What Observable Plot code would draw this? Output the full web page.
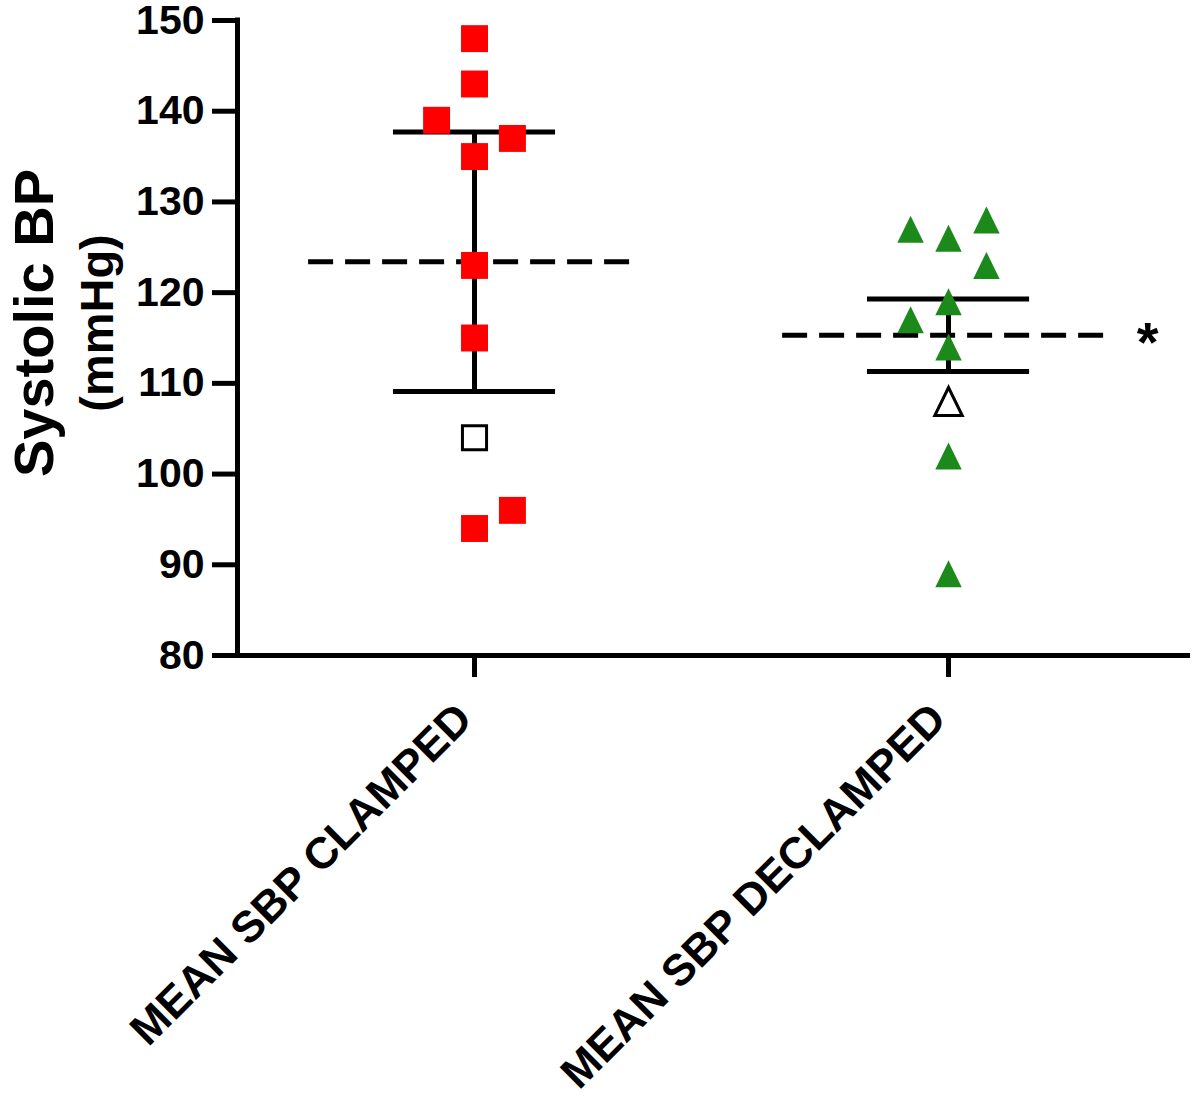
<!DOCTYPE html>
<html>
<head>
<meta charset="utf-8">
<script src="https://cdn.jsdelivr.net/npm/d3@7"></script>
<script src="https://cdn.jsdelivr.net/npm/@observablehq/plot@0.6"></script>
<style>
  body { margin: 0; background: #fff; }
</style>
</head>
<body>
<div id="chart"></div>
<script>
// ---- data ----
const categories = ["MEAN SBP CLAMPED", "MEAN SBP DECLAMPED"];
const clampedValues = [148, 143, 139, 137, 135, 123, 115, 96, 94];
const clampedColumns = [0, 0, -1, 1, 0, 0, 0, 1, 0];
const clampedOpenValues = [104];
const declampedValues = [127, 126, 128, 123, 119, 117, 114, 102, 89];
const declampedColumns = [-1, 0, 1, 1, 0, -1, 0, 0, 0];
const declampedOpenValues = [108];
const groupMeans = [123.4, 115.3];
const groupUpper = [137.7, 119.3];
const groupLower = [109.1, 111.3];
const significance = ["", "*"];
const yTicks = [80, 90, 100, 110, 120, 130, 140, 150];
const yTitle = ["Systolic BP", "(mmHg)"];

// ---- tables built from the arrays ----
const colStep = 0.08;
const filledRed = clampedValues.map((v, i) => ({g: 1, col: clampedColumns[i], v}));
const filledGreen = declampedValues.map((v, i) => ({g: 2, col: declampedColumns[i], v}));
const openRed = clampedOpenValues.map(v => ({g: 1, col: 0, v}));
const openGreen = declampedOpenValues.map(v => ({g: 2, col: 0, v}));
const summary = groupMeans.map((m, i) => ({g: i + 1, mean: m, hi: groupUpper[i], lo: groupLower[i], sig: significance[i]}));
const px = d => d.g + d.col * colStep;

const triangle = {
  draw(ctx, size) {
    const r = Math.sqrt(size / Math.PI);
    ctx.moveTo(0, -r);
    ctx.lineTo(r * 0.98, r);
    ctx.lineTo(-r * 0.98, r);
    ctx.closePath();
  }
};

const RED = "#ff0000";
const GREEN = "#1b8a1b";

const chart = Plot.plot({
  width: 1200,
  height: 1099,
  marginLeft: 237,
  marginRight: 10,
  marginTop: 20,
  marginBottom: 444,
  style: {fontFamily: "'Liberation Sans', Arial, sans-serif", fontWeight: "bold", color: "black", background: "white", overflow: "visible"},
  x: {type: "linear", domain: [0.5, 2.5105]},
  y: {domain: [80, 150]},
  marks: [
    // axes
    Plot.ruleY([80], {stroke: "black", strokeWidth: 5}),
    Plot.ruleX([0.5], {y1: 80, y2: 150, stroke: "black", strokeWidth: 5, strokeLinecap: "square"}),
    Plot.axisY({ticks: yTicks, tickSize: 25, tickPadding: 8, strokeWidth: 5, fontSize: 41, label: null, tickFormat: d => String(d)}),
    Plot.axisX({ticks: [1, 2], tickSize: 22, strokeWidth: 5, label: null, tickFormat: () => ""}),
    Plot.text(categories, {x: (d, i) => i + 1, y: 80, text: d => d, rotate: -45, textAnchor: "end", lineAnchor: "middle", dx: -10, dy: 56, fontSize: 44}),
    Plot.text([yTitle[0]], {frameAnchor: "left", text: d => d, rotate: -90, textAnchor: "middle", dx: -202, dy: -15, fontSize: 56}),
    Plot.text([yTitle[1]], {frameAnchor: "left", text: d => d, rotate: -90, textAnchor: "middle", dx: -140, dy: -15, fontSize: 47}),
    // mean (dashed) and error bars
    Plot.ruleY(summary, {y: "mean", x1: d => d.g - 0.35, x2: d => d.g + 0.35, stroke: "black", strokeWidth: 5, strokeDasharray: "25 12"}),
    Plot.ruleX(summary, {x: "g", y1: "lo", y2: "hi", stroke: "black", strokeWidth: 5}),
    Plot.ruleY(summary, {y: "hi", x1: d => d.g - 0.171, x2: d => d.g + 0.171, stroke: "black", strokeWidth: 5}),
    Plot.ruleY(summary, {y: "lo", x1: d => d.g - 0.171, x2: d => d.g + 0.171, stroke: "black", strokeWidth: 5}),
    Plot.text(summary, {x: "g", y: "mean", text: "sig", dx: 199, dy: 8, fontSize: 56, lineAnchor: "middle"}),
    // points
    Plot.dot(filledRed, {x: px, y: "v", symbol: "square", r: 15.2, fill: RED, stroke: "none"}),
    Plot.dot(openRed, {x: px, y: "v", symbol: "square", r: 13.6, fill: "white", stroke: "black", strokeWidth: 3}),
    Plot.dot(filledGreen, {x: px, y: "v", symbol: triangle, r: 13.5, fill: GREEN, stroke: "none"}),
    Plot.dot(openGreen, {x: px, y: "v", symbol: triangle, r: 14, fill: "white", stroke: "black", strokeWidth: 3})
  ]
});
document.getElementById("chart").appendChild(chart);
</script>
</body>
</html>
